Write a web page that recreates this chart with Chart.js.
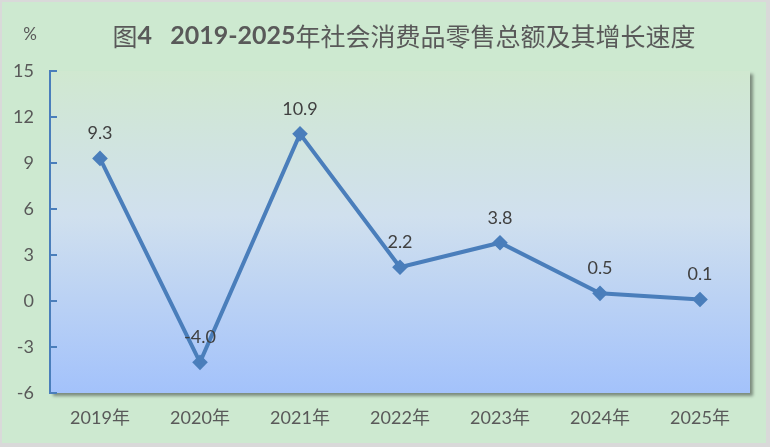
<!DOCTYPE html>
<html>
<head>
<meta charset="utf-8">
<script src="https://cdn.jsdelivr.net/npm/chart.js@4/dist/chart.umd.min.js"></script>
<style>
  html, body { margin: 0; padding: 0; background: #d9d9d9; }
  #wrap { width: 770px; height: 447px; }
</style>
</head>
<body>
<div id="wrap"><canvas id="growth-chart" width="770" height="447"></canvas></div>
<script>
// data
const years = ['2019年', '2020年', '2021年', '2022年', '2023年', '2024年', '2025年']
const growth = [9.3, -4.0, 10.9, 2.2, 3.8, 0.5, 0.1]
const yTicks = [-6, -3, 0, 3, 6, 9, 12, 15]

// title pieces: [text, bold]
const titleParts = [['图', false], ['4   2019-2025', true], ['年社会消费品零售总额及其增长速度', false]]
const unitText = '%'

const blue = '#4a7ebb'
const textGrey = '#595959'
const labelFont = "Lato, 'Noto Sans CJK SC', sans-serif"

// page frame, plot background with shadow, title and unit
const backdrop = {
    id: 'backdrop',
    beforeDraw(chart) {
        const ctx = chart.ctx
        const a = chart.chartArea
        ctx.save()
        ctx.fillStyle = '#d9d9d9'
        ctx.fillRect(0, 0, chart.width, chart.height)
        ctx.fillStyle = '#cde9d0'
        ctx.fillRect(2, 2, chart.width - 6, chart.height - 6)

        const grad = ctx.createLinearGradient(0, a.top, 0, a.bottom)
        grad.addColorStop(0, '#d0e8d0')
        grad.addColorStop(0.45, '#d0e0ee')
        grad.addColorStop(1, '#a3c2fb')
        ctx.shadowColor = 'rgba(0,0,0,0.4)'
        ctx.shadowOffsetX = 3
        ctx.shadowOffsetY = 3
        ctx.shadowBlur = 3
        ctx.fillStyle = grad
        ctx.fillRect(a.left, a.top, a.right - a.left, a.bottom - a.top)
        ctx.restore()

        ctx.save()
        ctx.fillStyle = textGrey
        ctx.textBaseline = 'middle'
        ctx.textAlign = 'left'
        const fontFor = bold => bold
            ? "bold 25px Lato, 'Noto Sans CJK SC', sans-serif"
            : "25px 'Noto Sans CJK SC', sans-serif"
        let total = 0
        titleParts.forEach(([t, b]) => {
            ctx.font = fontFor(b)
            total += ctx.measureText(t).width
        })
        let x = 404 - total / 2
        titleParts.forEach(([t, b]) => {
            ctx.font = fontFor(b)
            ctx.fillText(t, x, 36)
            x += ctx.measureText(t).width
        })
        ctx.textAlign = 'center'
        ctx.font = "17px " + labelFont
        ctx.fillText(unitText, 30, 35)
        ctx.restore()
    },
    afterDraw(chart) {
        // tick marks point into the plot
        const ctx = chart.ctx
        const y = chart.scales.y
        const left = chart.chartArea.left
        ctx.save()
        ctx.strokeStyle = blue
        ctx.lineWidth = 2
        yTicks.forEach(v => {
            const py = Math.round(y.getPixelForValue(v))
            ctx.beginPath()
            ctx.moveTo(left, py)
            ctx.lineTo(left + 7, py)
            ctx.stroke()
        })
        ctx.restore()
    }
}

// value labels above each point
const valueLabels = {
    id: 'valueLabels',
    afterDatasetsDraw(chart) {
        const ctx = chart.ctx
        const meta = chart.getDatasetMeta(0)
        ctx.save()
        ctx.fillStyle = '#404040'
        ctx.font = "18px " + labelFont
        ctx.textAlign = 'center'
        ctx.textBaseline = 'middle'
        meta.data.forEach((pt, i) => {
            ctx.fillText(growth[i].toFixed(1), pt.x, pt.y - 25)
        })
        ctx.restore()
    }
}

const chart = new Chart(document.getElementById('growth-chart'), {
    type: 'line',
    data: {
        labels: years,
        datasets: [{
            data: growth,
            borderColor: blue,
            backgroundColor: blue,
            borderWidth: 4,
            pointStyle: 'rectRot',
            pointRadius: 5,
            pointHoverRadius: 5,
            tension: 0
        }]
    },
    options: {
        responsive: false,
        animation: false,
        events: [],
        layout: {
            padding: { left: 0, top: 71, right: 20, bottom: 0 }
        },
        plugins: {
            legend: { display: false },
            tooltip: { enabled: false }
        },
        scales: {
            x: {
                offset: true,
                grid: { display: false, drawTicks: false },
                border: { display: false },
                ticks: {
                    color: textGrey,
                    padding: 14,
                    maxRotation: 0,
                    font: { family: labelFont, size: 18 }
                },
                afterFit(scale) { scale.height = 54 }
            },
            y: {
                min: -6,
                max: 15,
                afterBuildTicks(scale) {
                    scale.ticks = yTicks.map(v => ({ value: v }))
                },
                grid: { display: false, drawTicks: false },
                border: { display: true, color: blue, width: 2 },
                ticks: {
                    color: textGrey,
                    padding: 16,
                    font: { family: labelFont, size: 18 }
                },
                afterFit(scale) { scale.width = 50 }
            }
        }
    },
    plugins: [backdrop, valueLabels]
})
</script>
</body>
</html>
